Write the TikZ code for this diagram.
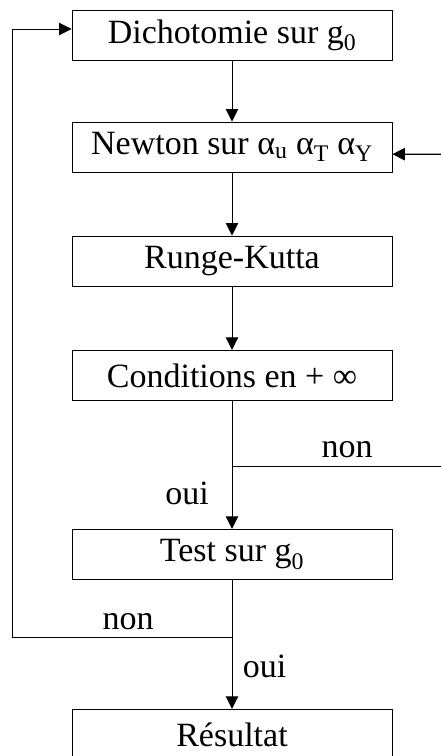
\documentclass[tikz,border=0pt]{standalone}
\usepackage{fontspec}
\setmainfont{Liberation Serif}
\usetikzlibrary{arrows.meta}

\begin{document}
\begin{tikzpicture}[x=1pt,y=-1pt,line width=.9pt,font=\fontsize{34}{40}\selectfont,
  stepbox/.style={draw,minimum width=320pt,minimum height=50.5pt,inner sep=0pt},
  flow/.style={-{Triangle[length=12.5pt,width=12.5pt]}}]
\useasboundingbox (0,0) rectangle (440,756);
\node[stepbox] (dicho) at (232,35.3) {Dichotomie sur g\textsubscript{0}};
\node[stepbox] (newton) at (232,147.2) {Newton sur α\textsubscript{u} α\textsubscript{T} α\textsubscript{Y}};
\node[stepbox] (rk) at (232,261.2) {Runge-Kutta};
\node[stepbox] (cond) at (232,375.5) {Conditions en + ∞};
\node[stepbox] (test) at (232,554.5) {Test sur g\textsubscript{0}};
\node[stepbox] (res) at (232,734.5) {Résultat};
\coordinate (jnon) at (232,466.7);
\coordinate (jright) at (441.5,466.7);
\coordinate (jloop) at (232,637.7);
\coordinate (jleft) at (12.7,637.7);
\draw[flow] (dicho) -- (newton);
\draw[flow] (newton) -- (rk);
\draw[flow] (rk) -- (cond);
\draw[flow] (cond) -- (test);
\draw (jnon) -- (jright) |- ([yshift=-7pt]newton.east);
\draw[flow] (jright |- 0,154) -- ([yshift=-7pt]newton.east);
\draw (test) -- (jloop) -- (jleft);
\draw[flow] (jleft) |- ([yshift=6.3pt]dicho.west);
\draw[flow] (jloop) -- (res);
\node[anchor=base] (lnon1) at (347,457) {non};
\node[anchor=base] (loui1) at (187,504) {oui};
\node[anchor=base] (lnon2) at (128,629) {non};
\node[anchor=base] (loui2) at (264.5,677) {oui};
\end{tikzpicture}
\end{document}
